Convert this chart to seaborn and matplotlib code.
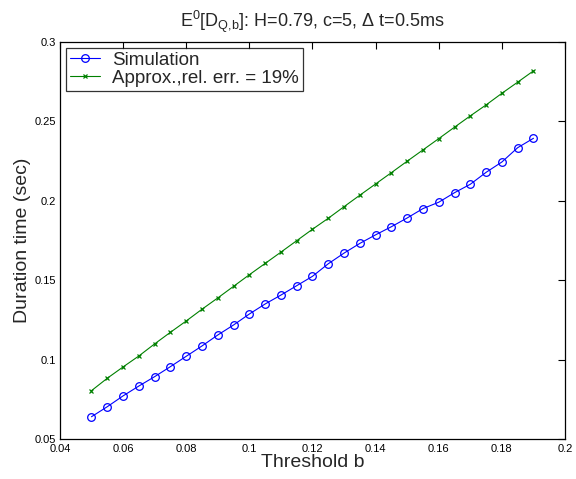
import pandas as pd
import matplotlib
matplotlib.use("Agg")
import matplotlib.pyplot as plt
import seaborn as sns

# threshold values b
thresh = [0.05, 0.055, 0.06, 0.065, 0.07, 0.075, 0.08, 0.085, 0.09, 0.095,
          0.1, 0.105, 0.11, 0.115, 0.12, 0.125, 0.13, 0.135, 0.14, 0.145,
          0.15, 0.155, 0.16, 0.165, 0.17, 0.175, 0.18, 0.185, 0.19]
# simulated duration time (sec)
sim = [0.0643, 0.0706, 0.0774, 0.0836, 0.0895, 0.0958, 0.1023, 0.1088, 0.1157, 0.1220,
       0.1289, 0.1352, 0.1408, 0.1467, 0.1526, 0.1605, 0.1672, 0.1733, 0.1787, 0.1838,
       0.1893, 0.1952, 0.1992, 0.2052, 0.2105, 0.2180, 0.2245, 0.2335, 0.2394]
# approximation
approx = [0.0807, 0.0885, 0.0956, 0.1025, 0.1101, 0.1174, 0.1245, 0.1319, 0.1390, 0.1463,
          0.1536, 0.1607, 0.1678, 0.1750, 0.1822, 0.1891, 0.1964, 0.2036, 0.2107, 0.2178,
          0.2250, 0.2321, 0.2392, 0.2464, 0.2535, 0.2604, 0.2677, 0.2747, 0.2818]

xticks = [0.04, 0.06, 0.08, 0.1, 0.12, 0.14, 0.16, 0.18, 0.2]
xticklabels = ['0.04', '0.06', '0.08', '0.1', '0.12', '0.14', '0.16', '0.18', '0.2']
yticks = [0.05, 0.1, 0.15, 0.2, 0.25, 0.3]
yticklabels = ['0.05', '0.1', '0.15', '0.2', '0.25', '0.3']

df = pd.DataFrame({'b': thresh, 'sim': sim, 'approx': approx})

sns.set_style('white')
plt.rcParams['font.family'] = ['Liberation Sans', 'DejaVu Sans']
plt.rcParams['mathtext.default'] = 'regular'

fig = plt.figure(figsize=(5.76, 4.79), dpi=100)
ax = fig.add_axes([0.104, 0.0825, 0.877, 0.83])

sns.lineplot(data=df, x='b', y='sim', ax=ax, color='#0000ff', lw=0.8,
             marker='o', markersize=5.5, markerfacecolor='none',
             markeredgecolor='#0000ff', markeredgewidth=0.9, label='Simulation')
sns.lineplot(data=df, x='b', y='approx', ax=ax, color='#008000', lw=0.8,
             marker='x', markersize=3.5, markeredgecolor='#008000',
             markeredgewidth=0.9, label='Approx.,rel. err. = 19%')

ax.set_xlim(0.04, 0.2)
ax.set_ylim(0.05, 0.3)
ax.set_xticks(xticks)
ax.set_xticklabels(xticklabels)
ax.set_yticks(yticks)
ax.set_yticklabels(yticklabels)
ax.tick_params(direction='in', top=True, right=True, length=5, width=0.8,
               labelsize=8, colors='black', pad=3)
for s in ax.spines.values():
    s.set_color('black')
    s.set_linewidth(0.9)

ax.set_xlabel('Threshold b', fontsize=14, labelpad=0)
ax.set_ylabel('Duration time (sec)', fontsize=14, labelpad=2)
ax.set_title(r'E$^0$[D$_{Q{,}b}$]: H=0.79, c=5, $\Delta$ t=0.5ms', fontsize=13, pad=11)

leg = ax.legend(loc='upper left', fontsize=13.5, frameon=True, fancybox=False,
                borderaxespad=0.33, handlelength=1.6, borderpad=0.2,
                labelspacing=0.05, handletextpad=0.65)
leg.get_frame().set_edgecolor('black')
leg.get_frame().set_linewidth(0.9)

fig.savefig('out.png', dpi=100)
